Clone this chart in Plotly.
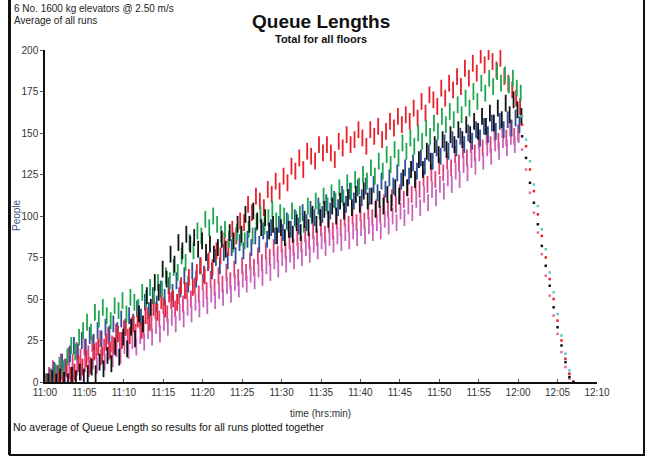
import plotly.graph_objects as go

# ---- data (queue length in people, sampled every half minute from 11:00) ----
step_min = 0.5
red = [0, 2, 1, 5, 3, 8, 4, 6, 11, 9, 14,
       10, 18, 21, 16, 24, 19, 22, 29, 25, 33,
       28, 35, 38, 31, 40, 36, 45, 42, 49, 44,
       53, 50, 48, 58, 55, 63, 57, 66, 70, 64,
       73, 69, 79, 76, 85, 81, 92, 88, 97, 96,
       107, 102, 112, 109, 105, 116, 113, 121, 115, 124,
       120, 130, 127, 135, 128, 139, 136, 133, 143, 138,
       143, 138, 134, 145, 141, 149, 143, 146, 152, 147,
       142, 152, 148, 154, 146, 151, 157, 153, 160, 155,
       161, 157, 165, 159, 169, 162, 173, 170, 166, 177,
       171, 180, 176, 184, 178, 189, 183, 192, 186, 197,
       191, 199, 193, 188, 195, 184, 180, 176, 171, 166]
green = [0, 3, 6, 10, 8, 15, 22, 18, 27, 31, 36,
         30, 42, 38, 45, 40, 37, 46, 43, 49, 41,
         51, 48, 45, 54, 50, 57, 52, 60, 56, 64,
         61, 69, 66, 76, 72, 84, 79, 91, 88, 98,
         93, 100, 95, 89, 92, 86, 83, 90, 87, 85,
         92, 88, 96, 101, 94, 99, 104, 97, 102, 100,
         96, 103, 98, 101, 95, 106, 100, 109, 103, 112,
         106, 114, 109, 117, 111, 120, 115, 122, 118, 125,
         121, 129, 124, 133, 127, 137, 131, 140, 135, 144,
         139, 147, 142, 150, 145, 153, 148, 156, 151, 160,
         155, 163, 158, 167, 161, 171, 165, 175, 169, 180,
         174, 183, 178, 187, 180, 185, 179, 183, 177, 174]
black = [0, 2, 0, 3, 1, 0, 4, 2, 6, 3, 5,
         9, 5, 12, 8, 16, 11, 21, 15, 27, 20,
         33, 26, 41, 35, 52, 45, 60, 54, 68, 62,
         77, 71, 84, 79, 89, 83, 87, 80, 85, 78,
         83, 77, 81, 86, 80, 90, 85, 95, 89, 101,
         95, 103, 97, 93, 99, 91, 95, 88, 93, 87,
         92, 89, 96, 90, 98, 93, 101, 95, 99, 104,
         98, 106, 100, 109, 103, 111, 105, 113, 107, 115,
         109, 112, 104, 110, 106, 113, 108, 117, 112, 123,
         117, 128, 122, 134, 128, 139, 133, 143, 137, 146,
         140, 149, 143, 152, 146, 155, 149, 157, 151, 160,
         154, 162, 156, 165, 158, 168, 161, 170, 164, 160]
blue = [0, 3, 7, 5, 12, 9, 17, 22, 18, 25, 21,
        28, 24, 31, 26, 33, 29, 35, 31, 38, 33,
        40, 36, 44, 39, 48, 43, 52, 47, 56, 51,
        58, 54, 61, 56, 64, 59, 67, 62, 70, 65,
        72, 67, 75, 70, 78, 73, 81, 76, 84, 79,
        86, 81, 88, 83, 91, 86, 93, 88, 95, 90,
        97, 92, 99, 94, 102, 96, 104, 99, 106, 101,
        108, 103, 110, 105, 113, 107, 115, 109, 117, 111,
        118, 112, 119, 114, 121, 116, 123, 118, 126, 121,
        129, 124, 132, 127, 135, 130, 138, 133, 141, 136,
        144, 139, 146, 141, 148, 143, 150, 145, 152, 147,
        154, 149, 156, 151, 157, 152, 158, 153, 159, 155]
magenta = [0, 2, 1, 4, 6, 3, 7, 5, 9, 6, 11,
           8, 13, 10, 15, 12, 18, 14, 20, 16, 22,
           19, 25, 21, 28, 24, 31, 27, 34, 29, 36,
           33, 39, 35, 42, 38, 45, 41, 48, 44, 50,
           46, 53, 49, 55, 51, 58, 53, 60, 56, 62,
           59, 65, 61, 68, 63, 70, 66, 73, 68, 75,
           71, 77, 73, 79, 75, 81, 77, 83, 79, 85,
           81, 87, 83, 88, 84, 90, 85, 91, 87, 93,
           88, 94, 90, 96, 91, 98, 94, 100, 96, 103,
           99, 106, 102, 110, 105, 113, 108, 116, 111, 119,
           115, 123, 119, 127, 122, 131, 126, 134, 130, 138,
           133, 141, 136, 144, 139, 146, 141, 148, 143, 149]
rose = [0, 4, 8, 5, 12, 9, 16, 12, 19, 15, 21,
        17, 23, 19, 26, 21, 28, 23, 30, 25, 32,
        27, 34, 30, 37, 32, 40, 35, 43, 38, 46,
        41, 49, 44, 52, 47, 55, 50, 58, 53, 60,
        55, 62, 57, 64, 59, 66, 61, 68, 63, 70,
        66, 73, 69, 76, 72, 79, 75, 81, 77, 83,
        79, 85, 81, 87, 83, 89, 85, 91, 87, 93,
        89, 95, 91, 97, 93, 99, 95, 100, 96, 102,
        97, 103, 99, 105, 101, 108, 104, 111, 107, 114,
        110, 117, 113, 120, 116, 123, 119, 126, 122, 130,
        126, 133, 129, 137, 132, 140, 135, 143, 138, 146,
        141, 148, 143, 150, 145, 152, 147, 153, 148, 150]

# when each run's sampling started (minutes after 11:00)
sample_offset = [0.0, 0.08, 0.17, 0.25, 0.33, 0.42]

# run-down after 12:00 (minutes after 11:00, people)
tail_t = [60.5, 61, 61.5, 62, 62.5, 63, 63.5, 64, 64.5, 65, 65.5, 66, 66.5, 67]
tail_black = [148, 135, 120, 108, 95, 82, 70, 58, 45, 33, 22, 12, 3, 0]
tail_red = [155, 142, 128, 115, 101, 88, 75, 62, 50, 37, 25, 14, 5, 0]
tail_cyan = [160, 146, 133, 119, 106, 92, 80, 66, 54, 41, 28, 17, 7, 0]
tail_pink = [140, 128, 114, 102, 90, 77, 64, 52, 40, 29, 18, 9, 2, 0]

tick_vals = [0, 5, 10, 15, 20, 25, 30, 35, 40, 45, 50, 55, 60, 65, 70]
tick_text = ["11:00", "11:05", "11:10", "11:15", "11:20", "11:25", "11:30",
             "11:35", "11:40", "11:45", "11:50", "11:55", "12:00", "12:05", "12:10"]
y_ticks = [0, 25, 50, 75, 100, 125, 150, 175, 200]

series = [
    ("run 6", rose, "#e0407a"),
    ("run 5", magenta, "#c964bd"),
    ("run 4", blue, "#2d5096"),
    ("run 3", red, "#e8202a"),
    ("run 2", green, "#1fa650"),
    ("run 1", black, "#111111"),
]
tails = [
    (tail_pink, "#e46aa0"),
    (tail_cyan, "#5cc8c8"),
    (tail_red, "#e8202a"),
    (tail_black, "#111111"),
]

FONT = "Liberation Sans, Arial, sans-serif"
fig = go.Figure()
for (name, vals, col), off in zip(series, sample_offset):
    t = [off + i * step_min for i in range(len(vals))]
    fig.add_trace(go.Scatter(
        x=t, y=vals, mode="markers", name=name,
        marker=dict(symbol="line-ns", size=12,
                    line=dict(color=col, width=1.8)),
        hoverinfo="skip"))
for vals, col in tails:
    fig.add_trace(go.Scatter(
        x=tail_t, y=vals, mode="markers",
        marker=dict(symbol="square", size=2.5, color=col, line=dict(width=0)),
        hoverinfo="skip"))

L, R, T, B = 45, 57, 50, 75
W, H = 654, 457
pw, ph = W - L - R, H - T - B


def px(x):
    return (x - L) / pw


def py(y):
    return (H - B - y) / ph


fig.update_layout(
    width=W, height=H,
    margin=dict(l=L, r=R, t=T, b=B),
    paper_bgcolor="white", plot_bgcolor="white",
    showlegend=False,
    font=dict(family=FONT, size=10, color="#333"),
    xaxis=dict(range=[0, 70], tickvals=tick_vals, ticktext=tick_text,
               showgrid=False, zeroline=False, showline=True,
               linecolor="#111", linewidth=1.5, ticks="inside", ticklen=3,
               tickcolor="#555", tickfont=dict(size=10, color="#333")),
    yaxis=dict(range=[0, 200], tickvals=y_ticks,
               showgrid=False, zeroline=False, showline=True,
               linecolor="#111", linewidth=1.5, ticks="outside", ticklen=3,
               tickcolor="#555", tickfont=dict(size=10, color="#333")),
    shapes=[
        dict(type="line", xref="paper", yref="paper", x0=px(9.5), x1=px(9.5),
             y0=py(0) + 0.05, y1=py(455), line=dict(color="#111", width=3)),
        dict(type="line", xref="paper", yref="paper", x0=px(644), x1=px(644),
             y0=py(0) + 0.05, y1=py(455), line=dict(color="#111", width=2)),
        dict(type="line", xref="paper", yref="paper", x0=px(9), x1=px(645),
             y0=py(455), y1=py(455), line=dict(color="#111", width=2)),
    ],
    annotations=[
        dict(text="6 No. 1600 kg elevators @ 2.50 m/s", xref="paper", yref="paper",
             x=px(12), y=py(1), xanchor="left", yanchor="top", showarrow=False,
             font=dict(size=10, color="#222")),
        dict(text="Average of all runs", xref="paper", yref="paper",
             x=px(12), y=py(13), xanchor="left", yanchor="top", showarrow=False,
             font=dict(size=10, color="#222")),
        dict(text="<b>Queue Lengths</b>", xref="paper", yref="paper",
             x=px(321), y=py(21), xanchor="center", yanchor="middle", showarrow=False,
             font=dict(size=19, color="#111")),
        dict(text="<b>Total for all floors</b>", xref="paper", yref="paper",
             x=px(321), y=py(39), xanchor="center", yanchor="middle", showarrow=False,
             font=dict(size=11, color="#111")),
        dict(text="People", xref="paper", yref="paper", textangle=-90,
             x=px(16), y=py(215), xanchor="center", yanchor="middle", showarrow=False,
             font=dict(size=10, color="#3b5a8a")),
        dict(text="time (hrs:min)", xref="paper", yref="paper",
             x=px(320), y=py(413), xanchor="center", yanchor="middle", showarrow=False,
             font=dict(size=10, color="#333")),
        dict(text="No average of Queue Length so results for all runs plotted together",
             xref="paper", yref="paper",
             x=px(11), y=py(427), xanchor="left", yanchor="middle", showarrow=False,
             font=dict(size=10.5, color="#111")),
    ],
)

fig.write_html("out.html")
